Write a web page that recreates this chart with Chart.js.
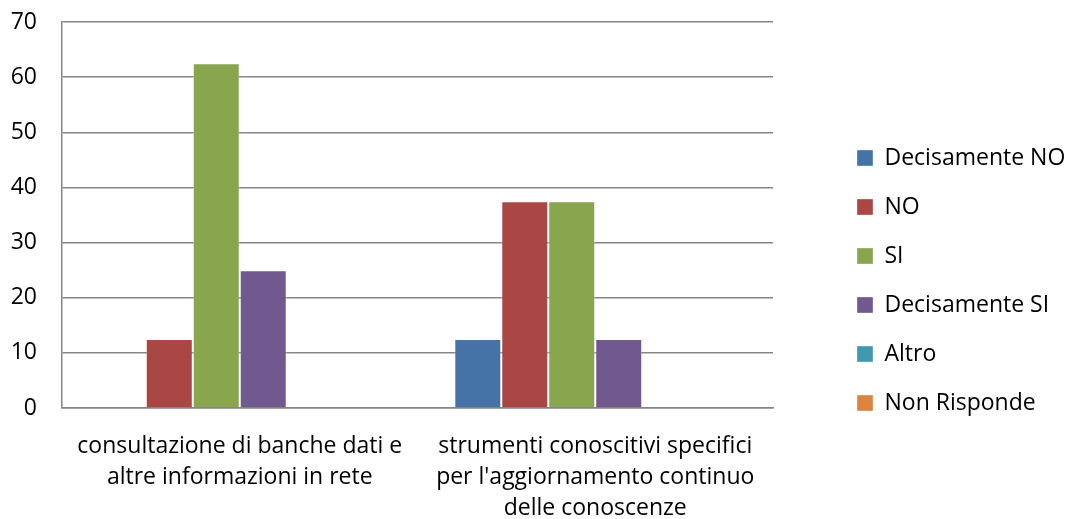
<!DOCTYPE html>
<html>
<head>
<meta charset="utf-8">
<script src="https://cdn.jsdelivr.net/npm/chart.js@4"></script>
<style>
  html, body { margin: 0; padding: 0; background: #fff; }
  #wrap { width: 1068px; height: 519px; }
</style>
</head>
<body>
<div id="wrap"><canvas id="chart"></canvas></div>
<script>
const categories = [
  ["consultazione di banche dati e", "altre informazioni in rete"],
  ["strumenti conoscitivi specifici", "per l'aggiornamento continuo", "delle conoscenze"]
];
const seriesNames = ["Decisamente NO", "NO", "SI", "Decisamente SI", "Altro", "Non Risponde"];
const decisamenteNo = [0, 12.5];
const no = [12.5, 37.5];
const si = [62.5, 37.5];
const decisamenteSi = [25, 12.5];
const altro = [0, 0];
const nonRisponde = [0, 0];
const colors = ["#4572A7", "#AA4643", "#89A54E", "#71588F", "#4198AF", "#DB843D"];

const values = [decisamenteNo, no, si, decisamenteSi, altro, nonRisponde];
const font = "'Open Sans', sans-serif";

// keep the legend column at a fixed place on the right, like the Excel original
const legendPlace = {
  id: "legendPlace",
  afterInit(chart) {
    const fit = chart.legend.fit;
    chart.legend.fit = function () {
      fit.call(this);
      this.width = 295;
    };
  },
  afterLayout(chart) {
    chart.legend.left = 831;
    chart.legend.right = 831 + chart.legend.width;
    chart.legend.top = 21;
    chart.legend.bottom = 540;
  }
};

new Chart(document.getElementById("chart"), {
  type: "bar",
  data: {
    labels: categories,
    datasets: seriesNames.map((name, i) => ({
      label: name,
      data: values[i],
      backgroundColor: colors[i],
      borderColor: "rgba(255,255,255,0.35)",
      borderWidth: 1,
      categoryPercentage: 0.793,
      barPercentage: 1.0
    }))
  },
  options: {
    responsive: true,
    maintainAspectRatio: false,
    animation: false,
    layout: { padding: { top: 0, right: 0, left: 11, bottom: 0 } },
    plugins: {
      tooltip: { enabled: false },
      legend: {
        position: "right",
        labels: {
          boxWidth: 16,
          boxHeight: 16,
          padding: 26,
          color: "#000",
          font: { family: font, size: 23 }
        }
      }
    },
    scales: {
      x: {
        grid: { display: false, drawTicks: false },
        border: { color: "#868686", width: 1.5 },
        afterFit(scale) { scale.height = 111; },
        ticks: {
          color: "#000",
          padding: 23,
          maxRotation: 0,
          font: { family: font, size: 23, lineHeight: 1.35 }
        }
      },
      y: {
        min: 0,
        max: 70,
        grid: { color: "#868686", lineWidth: 1.5, drawTicks: false },
        border: { color: "#868686", width: 1.5 },
        afterFit(scale) {
          scale.width = 51;
          scale.paddingTop = 22;
        },
        ticks: {
          stepSize: 10,
          color: "#000",
          padding: 25,
          font: { family: font, size: 23 }
        }
      }
    }
  },
  plugins: [legendPlace]
});
</script>
</body>
</html>
